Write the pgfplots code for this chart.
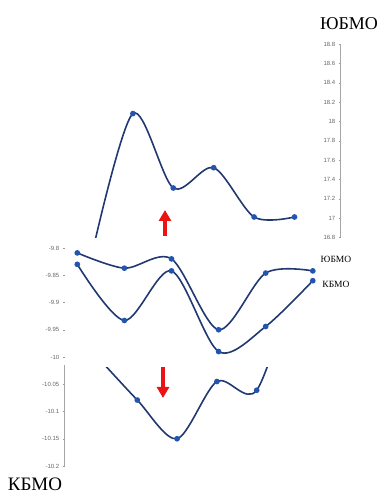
\documentclass[border=0pt]{standalone}
\usepackage{fontspec}
\setmainfont{Liberation Serif}
\newfontfamily\tickfont{Liberation Sans}
\usepackage{pgfplots}
\pgfplotsset{compat=1.18}
\usetikzlibrary{arrows.meta}
\definecolor{lineblue}{RGB}{33,56,112}
\definecolor{markblue}{RGB}{35,85,175}
\definecolor{arrowred}{RGB}{235,20,20}
\pgfplotsset{
 hidden/.style={scale only axis, hide axis},
 scaleax/.style={scale only axis, hide x axis, axis y line=left, width=1pt, xmin=0, xmax=1,
   every outer y axis line/.append style={-}, y axis line style={-, draw=black!35, line width=0.5pt},
   ytick style={draw=black!40}, major tick length=2.5pt,
   yticklabel style={font=\tickfont\fontsize{6}{7}\selectfont, text=black!60},
   /pgf/number format/assume math mode=true},
 curve/.style={lineblue, line width=1.6pt, smooth, mark=*, mark size=2pt, mark options={fill=markblue, draw=markblue}},
}
\begin{document}
\begin{tikzpicture}
\useasboundingbox (0,0) rectangle (387pt,496pt);
% top panel data
\begin{axis}[hidden, at={(72.3pt,258.7pt)}, anchor=south west, width=262.6pt, height=193.3pt,
  xmin=-0.5, xmax=6, ymin=16.8, ymax=18.8, clip=true]
\addplot[curve] coordinates {(0,16.65) (1,18.08) (2,17.31) (3,17.52) (4,17.01) (5,17.01)};
\end{axis}
% top scale
\begin{axis}[scaleax, at={(340pt,258.7pt)}, anchor=south west, height=193.3pt,
  ymin=16.8, ymax=18.8, ytick={16.8,17,17.2,17.4,17.6,17.8,18,18.2,18.4,18.6,18.8}]
\addplot[draw=none] coordinates {(0,17)};
\end{axis}
% middle panel data
\begin{axis}[hidden, at={(77.3pt,30pt)}, anchor=south west, width=235.5pt, height=218pt,
  xmin=0, xmax=5, ymin=-10.2, ymax=-9.8, clip=false]
\addplot[curve] coordinates {(0,-9.809) (1,-9.837) (2,-9.820) (3,-9.950) (4,-9.846) (5,-9.842)};
\addplot[curve] coordinates {(0,-9.830) (1,-9.933) (2,-9.842) (3,-9.990) (4,-9.944) (5,-9.860)};
\end{axis}
% lower panel data
\begin{axis}[hidden, at={(97.5pt,30pt)}, anchor=south west, width=199pt, height=98.1pt,
  xmin=0, xmax=5, ymin=-10.2, ymax=-10.02, clip=true]
\addplot[curve, mark indices={1,2,3,4}] coordinates {(0,-10.0) (1,-10.079) (2,-10.150) (3,-10.045) (4,-10.061) (5,-9.85)};
\end{axis}
% left scale
\begin{axis}[scaleax, at={(64pt,30pt)}, anchor=south west, height=218pt,
  ymin=-10.2, ymax=-9.8, y axis line style={draw=none},
  ytick={-10.2,-10.15,-10.1,-10.05,-10,-9.95,-9.9,-9.85,-9.8}]
\addplot[draw=none] coordinates {(0,-10)};
\end{axis}
\begin{axis}[scaleax, at={(64pt,30pt)}, anchor=south west, height=100.8pt,
  ymin=-10.2, ymax=-10.015, ytick=\empty]
\addplot[draw=none] coordinates {(0,-10.1)};
\end{axis}
% arrows
\draw[arrowred, line width=3.5pt, -{Triangle[width=12pt,length=11pt]}] (165pt,260pt) -- (165pt,286pt);
\draw[arrowred, line width=3.5pt, -{Triangle[width=12pt,length=11pt]}] (163pt,129pt) -- (163pt,98pt);
% labels
\node[font=\fontsize{18}{20}\selectfont] at (349pt,472pt) {ЮБМО};
\node[font=\fontsize{19}{21}\selectfont] at (35pt,12pt) {КБМО};
\node[font=\fontsize{9.5}{11}\selectfont] at (336pt,237pt) {ЮБМО};
\node[font=\fontsize{9.5}{11}\selectfont] at (336pt,212pt) {КБМО};
\end{tikzpicture}
\end{document}
